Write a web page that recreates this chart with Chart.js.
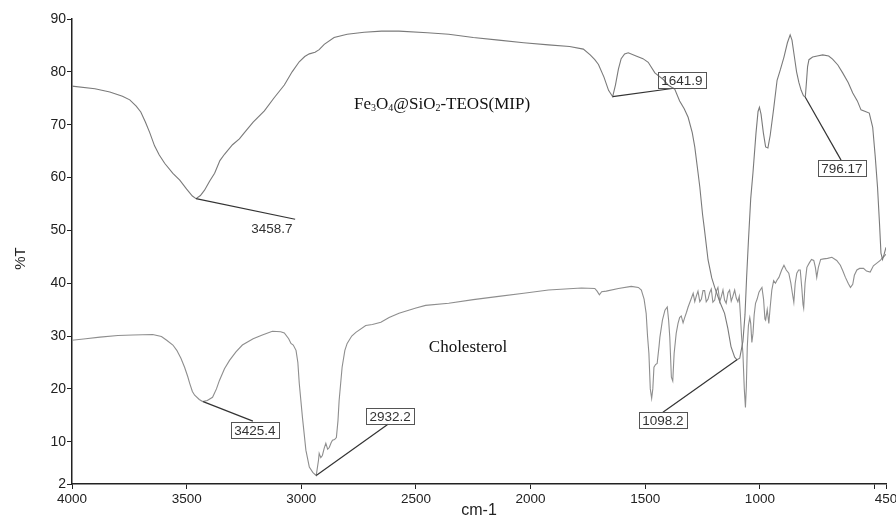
<!DOCTYPE html>
<html>
<head>
<meta charset="utf-8">
<script src="https://cdn.jsdelivr.net/npm/chart.js@4.4.1/dist/chart.umd.min.js"></script>
<style>
  html, body { margin: 0; padding: 0; background: #fff; }
  #wrap { width: 896px; height: 516px; }
</style>
</head>
<body>
<div id="wrap"><canvas id="chart" width="896" height="516"></canvas></div>
<script>
// Fe3O4@SiO2-TEOS(MIP) spectrum
const mipWave = [
  4000,3900,3835,3780,3748,3720,3700,3680,3661,3640,
  3620,3596,3560,3530,3500,3475,3459,3440,3422,3400,
  3378,3355,3335,3300,3270,3248,3210,3161,3120,3074,
  3040,3009,2985,2965,2940,2922,2900,2857,2800,2726,
  2650,2574,2450,2357,2250,2139,2030,1922,1830,1770,
  1740,1720,1704,1680,1660,1642,1630,1617,1605,1590,
  1574,1540,1510,1487,1458,1420,1400,1371,1350,1330,
  1313,1295,1284,1270,1262,1250,1243,1226,1210,1197,
  1175,1154,1140,1126,1110,1100,1088,1074,1065,1058,
  1050,1040,1030,1017,1008,1002,995,985,975,965,
  955,940,925,910,895,880,868,860,850,840,
  830,820,810,802,797,792,786,770,750,726,
  700,683,660,639,615,595,575,559,540,523,
  508,497,487,478,472,465,458,450
];
const mipT = [
  77.3,76.8,76.2,75.4,74.7,73.5,72.4,70.5,68.5,66,
  64.3,62.7,60.8,59.5,57.8,56.5,56.0,56.6,57.6,59.3,
  60.8,63.2,64.4,66.2,67.3,68.5,70.5,72.6,75,77.5,
  80,81.9,82.9,83.4,83.7,84.2,85.2,86.5,87.1,87.5,
  87.7,87.7,87.4,87.1,86.5,86.0,85.5,85.1,84.8,84.3,
  83.2,82.3,81.4,79,76.5,75.3,77.5,80.5,82.5,83.4,
  83.6,83,82.5,81.8,79.8,78.5,77.5,76.7,74.5,73,
  71.4,68.5,65.8,61,58.2,53,50.6,44.4,41,39.2,
  36.5,34.3,31.5,28,26,25.5,25.8,29,34,41,
  48,56,61,68.4,72.5,73.3,72,68.5,65.8,65.6,
  68,73,78.4,80.5,82.8,85.5,87,86,83,80,
  78,76.5,75.5,75.2,78,81,82.3,82.8,83,83.2,
  83,82.4,81.3,79.8,78,76,74.5,72.8,72.5,72.2,
  69.5,64,58.2,51,45.7,44.5,45.5,46.8
];

// Cholesterol spectrum
const cholWave = [
  4000,3940,3878,3800,3735,3648,3610,3587,3560,3543,
  3525,3509,3495,3487,3475,3465,3445,3430,3410,3387,
  3370,3357,3335,3313,3285,3257,3210,3170,3126,3090,
  3074,3055,3045,3035,3023,3015,3009,2995,2980,2965,
  2950,2935,2925,2922,2915,2908,2900,2893,2885,2878,
  2870,2864,2855,2847,2840,2835,2822,2810,2800,2780,
  2762,2719,2690,2653,2617,2574,2500,2458,2357,2250,
  2139,2030,1922,1850,1778,1720,1710,1700,1690,1670,
  1617,1561,1530,1517,1505,1496,1490,1484,1478,1472,
  1467,1462,1455,1448,1440,1436,1425,1414,1404,1398,
  1393,1386,1380,1374,1365,1357,1350,1343,1335,1328,
  1320,1313,1300,1291,1284,1277,1270,1262,1255,1248,
  1241,1234,1226,1219,1212,1205,1197,1190,1183,1175,
  1168,1161,1154,1147,1139,1132,1125,1118,1110,1103,
  1096,1090,1085,1080,1074,1068,1063,1059,1055,1050,
  1044,1040,1035,1030,1025,1019,1012,1004,997,991,
  984,978,975,968,961,955,948,940,932,925,
  917,905,895,885,874,865,858,852,846,839,
  831,824,817,812,809,803,795,785,775,765,
  758,752,745,735,722,705,686,665,649,638,
  627,615,605,595,588,577,565,548,535,519,
  505,490,475,468,460,450
];
const cholT = [
  29.2,29.5,29.8,30.1,30.2,30.3,29.9,29.2,28.3,27.3,
  25.8,24.1,22.3,21.1,19.5,18.8,18,17.6,17.8,18.4,
  20,21.6,23.8,25.4,27,28.3,29.5,30.2,30.9,30.8,
  30.6,29.5,28.6,28.3,27.3,25,21.1,14.6,8.4,5.2,
  4.2,3.6,6.5,7.8,7.0,7.4,8.8,9.7,8.6,8.9,
  9.8,10.3,10.4,10.8,14,17.8,24.1,27.3,28.6,30,
  30.7,32.0,32.2,32.6,33.5,34.3,35.3,35.8,36.2,36.9,
  37.5,38.1,38.7,38.9,39.1,39,38.5,37.8,38.4,38.5,
  39.0,39.4,39.2,38.7,37,34.3,30,26.7,20,18.2,
  20,24.1,24.6,24.8,28,29.8,33,34.9,35.5,33,
  29.8,22.2,21.5,26.7,30.5,32.4,33.5,33.8,32.5,33.5,
  34.5,35.5,37,38.1,36.5,37.6,38.5,36.5,37,38.6,
  38.6,36.5,37,38.2,38.9,36.4,36.8,38.5,39.2,36.5,
  37.5,38.7,36.8,36.2,38.2,38.7,36.6,37.5,38.7,37.2,
  36.5,37.5,34,30,26.7,20,16.5,20.5,27.9,32,
  33.5,32.4,28.8,30.5,34,36.2,37,38.3,38.8,39.2,
  37,33.2,33,35,32.4,35.5,38.7,40.5,40,40.6,
  41.1,42.5,43.4,42.5,41.9,40,38,36.4,40,41.9,
  42.5,42.5,39,36,35.3,40,43,43.8,44.5,44.3,
  43,41.1,43,44.5,44.6,44.7,44.9,44.3,43.4,42.3,
  41.1,40,39.2,39.8,41.5,42.5,42.8,42.8,42.3,42.1,
  43.3,43.8,44.3,44.7,45,45.5
];

const xTicks = [4000, 3500, 3000, 2500, 2000, 1500, 1000, 500, 450];
const yTicks = [2, 10, 20, 30, 40, 50, 60, 70, 80, 90];

// peak labels: text, marked point on the curve
const peakText = ['3458.7', '3425.4', '2932.2', '1641.9', '1098.2', '796.17'];
const peakWave = [3459, 3428, 2935, 1642, 1100, 802];
const peakT = [56.0, 17.6, 3.6, 75.3, 25.5, 75.2];

// where each label sits (data units) and where its leader line ends
const notePlace = [
  { lx: 3128, ly: 50.4, ex: 3027, ey: 52.1, box: false },
  { lx: 3202, ly: 12.2, ex: 3211, ey: 13.9, box: true },
  { lx: 2613, ly: 14.8, ex: 2622, ey: 13.3, box: true },
  { lx: 1340, ly: 78.4, ex: 1375, ey: 76.9, box: true },
  { lx: 1423, ly: 14.1, ex: 1423, ey: 15.6, box: true },
  { lx: 642, ly: 61.8, ex: 646, ey: 63.3, box: true }
];

const mipName = [['Fe', 0], ['3', 1], ['O', 0], ['4', 1], ['@SiO', 0], ['2', 1], ['-TEOS(MIP)', 0]];
const cholName = 'Cholesterol';

const sans = '"Liberation Sans", Arial, sans-serif';
const serif = '"Liberation Serif", "Times New Roman", serif';

const notes = {
  id: 'notes',
  afterDatasetsDraw(chart) {
    const { ctx, chartArea: a } = chart;
    const x = chart.scales.x, y = chart.scales.y;
    ctx.save();

    // leader lines + labels
    ctx.font = '13.5px ' + sans;
    ctx.textAlign = 'center';
    ctx.textBaseline = 'middle';
    peakText.forEach((t, i) => {
      const p = notePlace[i];
      ctx.strokeStyle = '#333';
      ctx.lineWidth = 1.2;
      ctx.beginPath();
      ctx.moveTo(x.getPixelForValue(peakWave[i]), y.getPixelForValue(peakT[i]));
      ctx.lineTo(x.getPixelForValue(p.ex), y.getPixelForValue(p.ey));
      ctx.stroke();
      const lx = x.getPixelForValue(p.lx), ly = y.getPixelForValue(p.ly);
      if (p.box) {
        const w = Math.round(ctx.measureText(t).width + 7);
        ctx.strokeStyle = '#555';
        ctx.lineWidth = 1;
        ctx.strokeRect(Math.round(lx - w / 2) + 0.5, Math.round(ly - 8) + 0.5, w, 16);
      }
      ctx.fillStyle = '#333';
      ctx.fillText(t, lx, ly + 1);
    });

    // sample names
    ctx.fillStyle = '#111';
    ctx.textAlign = 'left';
    ctx.textBaseline = 'alphabetic';
    const big = '17px ' + serif, small = '10px ' + serif;
    let total = 0;
    mipName.forEach(([s, sub]) => { ctx.font = sub ? small : big; total += ctx.measureText(s).width; });
    let cx = x.getPixelForValue(2386) - total / 2;
    const by = y.getPixelForValue(74.1) + 6;
    mipName.forEach(([s, sub]) => {
      ctx.font = sub ? small : big;
      ctx.fillText(s, cx, sub ? by + 2 : by);
      cx += ctx.measureText(s).width;
    });
    ctx.font = big;
    ctx.textAlign = 'center';
    ctx.fillText(cholName, x.getPixelForValue(2273), y.getPixelForValue(28.1) + 6);

    // axis titles
    ctx.fillStyle = '#222';
    ctx.font = '16px ' + sans;
    ctx.textBaseline = 'middle';
    ctx.fillText('cm-1', (a.left + a.right) / 2, a.bottom + 27);
    ctx.font = '15px ' + sans;
    ctx.translate(a.left - 51, (a.top + a.bottom) / 2 + 7);
    ctx.rotate(-Math.PI / 2);
    ctx.fillText('%T', 0, 0);
    ctx.restore();
  }
};

const ctx = document.getElementById('chart');

const theChart = new Chart(ctx, {
  type: 'line',
  data: {
    datasets: [
      {
        label: 'Fe3O4@SiO2-TEOS(MIP)',
        data: mipWave.map((w, i) => ({ x: w, y: mipT[i] })),
        borderColor: '#7a7a7a',
        borderWidth: 1.1,
        pointRadius: 0,
        tension: 0,
      },
      {
        label: 'Cholesterol',
        data: cholWave.map((w, i) => ({ x: w, y: cholT[i] })),
        borderColor: '#8e8e8e',
        borderWidth: 1.1,
        pointRadius: 0,
        tension: 0,
      },
    ],
  },
  options: {
    responsive: false,
    animation: false,
    layout: { padding: { top: 19, right: 10, left: 0, bottom: 0 } },
    plugins: { legend: { display: false }, tooltip: { enabled: false } },
    scales: {
      x: {
        type: 'linear',
        reverse: true,
        min: 450,
        max: 4000,
        afterBuildTicks: (s) => { s.ticks = xTicks.map(v => ({ value: v })); },
        afterFit: (s) => { s.height = 32; s.paddingRight = 0; s.paddingLeft = 0; },
        ticks: {
          autoSkip: false,
          maxRotation: 0,
          padding: 2,
          color: '#222',
          font: { family: sans, size: 13.5 },
          callback: (v) => (v === 500 ? '' : String(v)),
        },
        grid: { display: true, drawOnChartArea: false, drawTicks: true, tickLength: 5, color: '#222' },
        border: { display: true, color: '#222', width: 1.5 },
      },
      y: {
        min: 2,
        max: 90,
        afterBuildTicks: (s) => { s.ticks = yTicks.map(v => ({ value: v })); },
        afterFit: (s) => { s.width = 72; },
        ticks: {
          autoSkip: false,
          padding: 1,
          color: '#222',
          font: { family: sans, size: 14 },
          callback: (v) => String(v),
        },
        grid: { display: true, drawOnChartArea: false, drawTicks: true, tickLength: 5, color: '#222' },
        border: { display: true, color: '#222', width: 1.5 },
      },
    },
  },
  plugins: [notes],
});
</script>
</body>
</html>
